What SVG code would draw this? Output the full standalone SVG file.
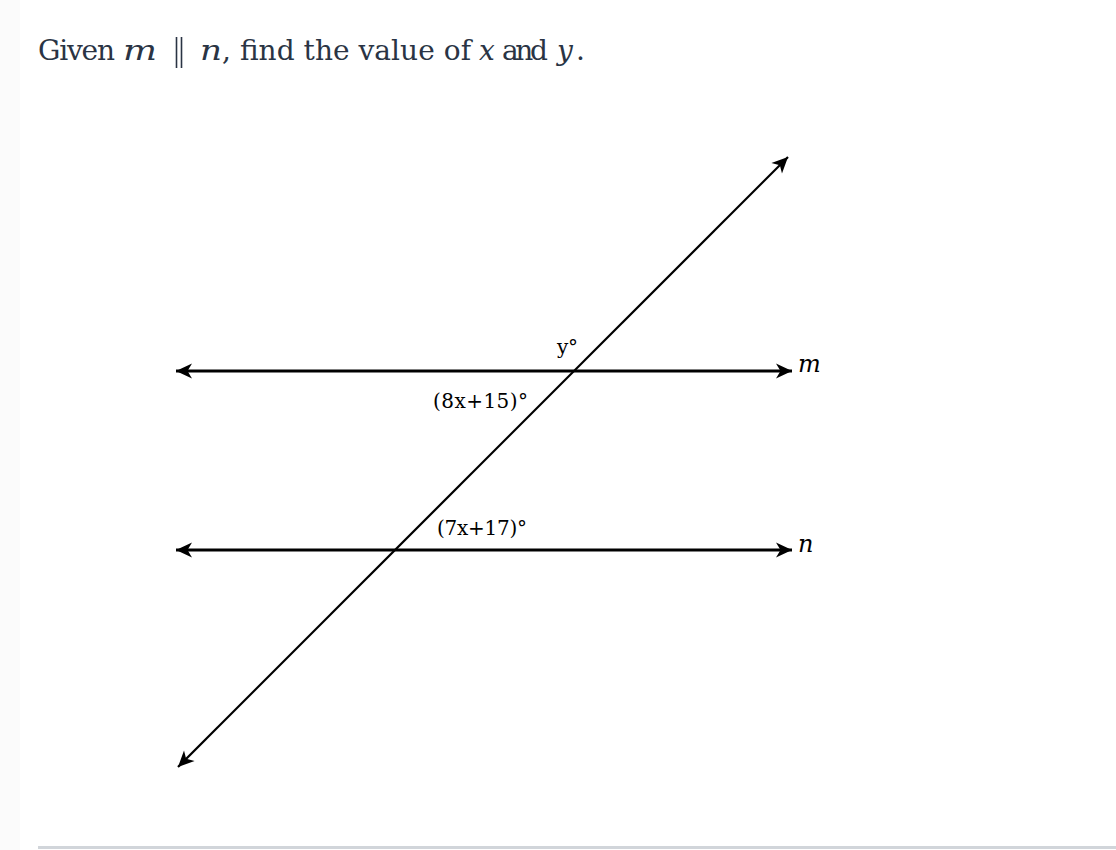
<svg xmlns="http://www.w3.org/2000/svg" width="1116" height="850" viewBox="0 0 1116 850">
<defs>
<style>
.title{font-family:"DejaVu Serif","Liberation Serif",serif;font-size:28px;fill:#2a3444}
.mi{font-style:italic}
.lbl{font-family:"DejaVu Serif","Liberation Serif",serif;font-size:20px;fill:#000}
.var{font-family:"DejaVu Serif","Liberation Serif",serif;font-size:24px;font-style:italic;fill:#000}
.ln{stroke:#000;fill:none}
</style>
<marker id="ah" viewBox="-17 -9 18 18" refX="0" refY="0" markerWidth="18" markerHeight="18" markerUnits="userSpaceOnUse" orient="auto-start-reverse">
<path d="M0,0 L-16,-7.5 L-11.5,0 L-16,7.5 Z" fill="#000"/>
</marker>
</defs>
<rect x="0" y="0" width="1116" height="850" fill="#fff"/>
<rect x="0" y="0" width="20" height="850" fill="#fbfbfb"/>
<rect x="38" y="846" width="1078" height="3" fill="#d1d5da"/>
<g id="title">
<text class="title" y="60"><tspan x="38" textLength="77">Given</tspan><tspan class="mi" x="123" textLength="34" lengthAdjust="spacingAndGlyphs">m</tspan><tspan class="mi" x="200" textLength="22" lengthAdjust="spacingAndGlyphs">n</tspan><tspan x="222" textLength="249">, find the value of</tspan><tspan class="mi" x="479">x</tspan><tspan x="502" textLength="46">and</tspan><tspan class="mi" x="557">y</tspan><tspan x="576">.</tspan></text>
<line x1="176.5" y1="37" x2="176.5" y2="68" stroke="#2a3444" stroke-width="1.6"/>
<line x1="181.5" y1="37" x2="181.5" y2="68" stroke="#2a3444" stroke-width="1.6"/>
</g>
<g id="connectors">
<line id="line-m" class="ln" x1="176" y1="371" x2="792" y2="371" stroke-width="3" marker-start="url(#ah)" marker-end="url(#ah)"/>
<line id="line-n" class="ln" x1="176" y1="550" x2="792" y2="550" stroke-width="3" marker-start="url(#ah)" marker-end="url(#ah)"/>
<line id="transversal" class="ln" x1="178" y1="767" x2="788" y2="157" stroke-width="2.2" marker-start="url(#ah)" marker-end="url(#ah)"/>
</g>
<g id="label-m"><text class="var" x="798" y="372">m</text></g>
<g id="label-n"><text class="var" x="798" y="552">n</text></g>
<g id="angle-y"><text class="lbl" x="557" y="354" textLength="21">y°</text></g>
<g id="angle-8x"><text class="lbl" x="433" y="408" textLength="95">(8x+15)°</text></g>
<g id="angle-7x"><text class="lbl" x="437" y="535" textLength="90">(7x+17)°</text></g>
</svg>
